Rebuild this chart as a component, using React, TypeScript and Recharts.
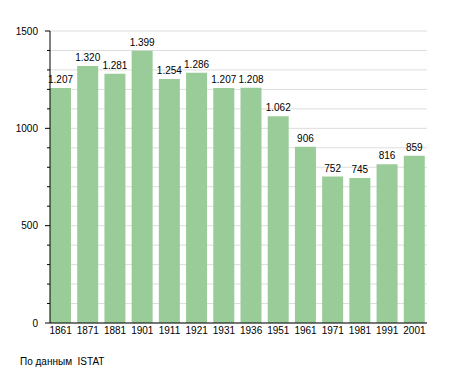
import { BarChart, Bar, XAxis, YAxis, CartesianGrid, LabelList } from "recharts";

const years = ["1861", "1871", "1881", "1901", "1911", "1921", "1931", "1936", "1951", "1961", "1971", "1981", "1991", "2001"];
const population = [1207, 1320, 1281, 1399, 1254, 1286, 1207, 1208, 1062, 906, 752, 745, 816, 859];
const yTicks = [0, 100, 200, 300, 400, 500, 600, 700, 800, 900, 1000, 1100, 1200, 1300, 1400, 1500];
const yLabels = [0, 500, 1000, 1500];

const FONT = '"Liberation Sans", Arial, sans-serif';

// 1207 -> "1.207" (italian thousands separator)
const fmt = (v: number) =>
  v >= 1000 ? `${Math.floor(v / 1000)}.${String(v % 1000).padStart(3, "0")}` : String(v);

function YTick(props: any) {
  const { x, y, payload } = props;
  const major = yLabels.includes(payload.value);
  return (
    <g>
      <line x1={x - (major ? 5 : 3)} x2={x} y1={y} y2={y} stroke="#000" />
      {major && (
        <text x={x - 12} y={y} dy="0.36em" textAnchor="end" fontSize={10} fill="#000" fontFamily={FONT}>
          {payload.value}
        </text>
      )}
    </g>
  );
}

export default function App() {
  const chartData = years.map((year, i) => ({ year, value: population[i] }));

  return (
    <div style={{ position: "absolute", left: 0, top: 0, width: 455, height: 373, background: "#fff", fontFamily: FONT }}>
      <BarChart width={455} height={373} data={chartData} margin={{ top: 31, right: 28, bottom: 20, left: 0 }}>
        <CartesianGrid vertical={false} stroke="#dddddd" />
        <XAxis
          dataKey="year"
          height={30}
          padding={{ left: -3, right: -1 }}
          tickLine={false}
          tickSize={0}
          tickMargin={4}
          axisLine={{ stroke: "#000" }}
          tick={{ fill: "#000", fontSize: 10, fontFamily: FONT }}
          interval={0}
        />
        <YAxis
          width={50}
          domain={[0, 1500]}
          ticks={yTicks}
          interval={0}
          tickLine={false}
          tickSize={0}
          tickMargin={0}
          axisLine={{ stroke: "#000" }}
          tick={<YTick />}
        />
        <Bar dataKey="value" fill="#99cc99" barSize={21} isAnimationActive={false}>
          <LabelList
            dataKey="value"
            position="top"
            offset={5}
            formatter={(v: any) => fmt(Number(v))}
            style={{ fill: "#000", fontSize: 10, fontFamily: FONT }}
          />
        </Bar>
      </BarChart>
      <div style={{ position: "absolute", left: 20, top: 356, fontSize: 10, whiteSpace: "pre", color: "#000" }}>
        По данным  ISTAT
      </div>
    </div>
  );
}
